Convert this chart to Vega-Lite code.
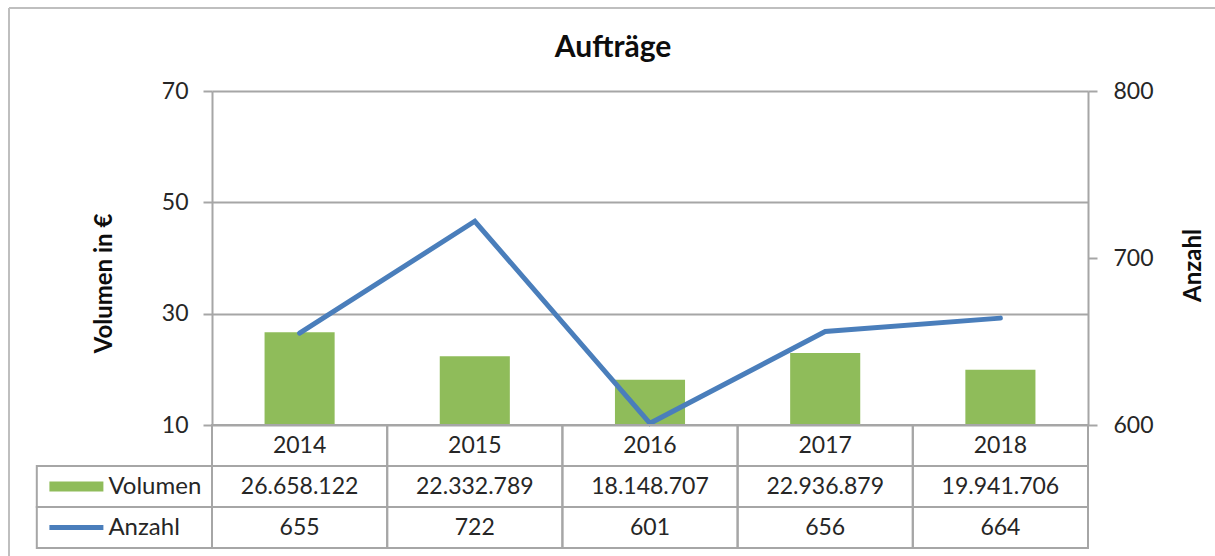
{
  "$schema": "https://vega.github.io/schema/vega-lite/v6.json",
  "width": 876,
  "height": 457,
  "autosize": {"type": "none"},
  "padding": {"left": 212, "top": 91, "right": 127, "bottom": 8},
  "background": "white",
  "title": {
    "text": "Aufträge",
    "frame": "group",
    "anchor": "middle",
    "baseline": "alphabetic",
    "offset": -80,
    "dx": -37,
    "fontSize": 30,
    "fontWeight": "bold",
    "font": "Lato",
    "color": "#0d0d0d"
  },
  "datasets": {
    "jahre": [
      {"Jahr": "2014", "Volumen": 26658122, "Anzahl": 655},
      {"Jahr": "2015", "Volumen": 22332789, "Anzahl": 722},
      {"Jahr": "2016", "Volumen": 18148707, "Anzahl": 601},
      {"Jahr": "2017", "Volumen": 22936879, "Anzahl": 656},
      {"Jahr": "2018", "Volumen": 19941706, "Anzahl": 664}
    ],
    "legende": [
      {"Zeile": "Volumen"},
      {"Zeile": "Anzahl"}
    ]
  },
  "layer": [
    {
      "data": {"name": "jahre"},
      "mark": {"type": "bar", "color": "#8fbc5a", "width": {"band": 0.4}},
      "encoding": {
        "x": {"field": "Jahr", "type": "nominal", "axis": null,
          "scale": {"type": "band", "domain": ["2014", "2015", "2016", "2017", "2018"], "range": [0, 876], "paddingInner": 0, "paddingOuter": 0}},
        "y": {"field": "Volumen", "type": "quantitative",
          "scale": {"domain": [10000000, 70000000], "range": [334, 0], "zero": false, "nice": false},
          "axis": {
            "orient": "left",
            "values": [10000000, 30000000, 50000000, 70000000],
            "labelExpr": "format(datum.value / 1000000, 'd')",
            "grid": true, "gridColor": "#a6a6a6", "gridWidth": 2,
            "domain": true, "domainColor": "#a6a6a6", "domainWidth": 2,
            "ticks": true, "tickColor": "#a6a6a6", "tickWidth": 2, "tickSize": 9,
            "labelPadding": 15, "labelFontSize": 23, "labelFont": "Lato", "labelColor": "#262626",
            "title": "Volumen in €", "titleFont": "Lato", "titleFontSize": 24, "titleFontWeight": "bold", "titleColor": "#0d0d0d",
            "titleAngle": -90, "titleAlign": "center", "titleBaseline": "middle",
            "titleX": -108, "titleY": 192
          }},
        "y2": {"datum": 10000000}
      }
    },
    {
      "data": {"name": "jahre"},
      "mark": {"type": "line", "color": "#4a7ebb", "strokeWidth": 5, "strokeCap": "round"},
      "encoding": {
        "x": {"field": "Jahr", "type": "nominal", "axis": null,
          "scale": {"type": "band", "domain": ["2014", "2015", "2016", "2017", "2018"], "range": [0, 876], "paddingInner": 0, "paddingOuter": 0}},
        "y": {"field": "Anzahl", "type": "quantitative",
          "scale": {"domain": [600, 800], "range": [334, 0], "zero": false, "nice": false},
          "axis": {
            "orient": "right",
            "values": [600, 700, 800],
            "grid": false,
            "domain": true, "domainColor": "#a6a6a6", "domainWidth": 2,
            "ticks": true, "tickColor": "#a6a6a6", "tickWidth": 2, "tickSize": 9,
            "labelPadding": 16, "labelFontSize": 23, "labelFont": "Lato", "labelColor": "#262626",
            "title": "Anzahl", "titleFont": "Lato", "titleFontSize": 24, "titleFontWeight": "bold", "titleColor": "#0d0d0d",
            "titleAngle": -90, "titleAlign": "center", "titleBaseline": "middle",
            "titleX": 105, "titleY": 174
          }}
      }
    },
    {
      "data": {"name": "jahre"},
      "transform": [{"fold": ["Jahr", "Volumen", "Anzahl"], "as": ["Zeile", "Wert"]}],
      "mark": {"type": "rect", "filled": false, "stroke": "#a6a6a6", "strokeWidth": 2},
      "encoding": {
        "x": {"field": "Jahr", "type": "nominal", "axis": null,
          "scale": {"type": "band", "domain": ["2014", "2015", "2016", "2017", "2018"], "range": [0, 876], "paddingInner": 0, "paddingOuter": 0}},
        "y": {"field": "Zeile", "type": "nominal", "axis": null,
          "scale": {"type": "band", "domain": ["Jahr", "Volumen", "Anzahl"], "range": [334, 457], "paddingInner": 0, "paddingOuter": 0}}
      }
    },
    {
      "data": {"name": "legende"},
      "mark": {"type": "rect", "filled": false, "stroke": "#a6a6a6", "strokeWidth": 2},
      "encoding": {
        "x": {"datum": "label", "type": "nominal", "axis": null,
          "scale": {"type": "band", "domain": ["label"], "range": [-175.2, 0], "paddingInner": 0, "paddingOuter": 0}},
        "y": {"field": "Zeile", "type": "nominal", "axis": null,
          "scale": {"type": "band", "domain": ["Jahr", "Volumen", "Anzahl"], "range": [334, 457], "paddingInner": 0, "paddingOuter": 0}}
      }
    },
    {
      "data": {"name": "jahre"},
      "mark": {"type": "text", "font": "Lato", "fontSize": 23, "color": "#262626", "baseline": "middle"},
      "encoding": {
        "x": {"field": "Jahr", "type": "nominal", "axis": null,
          "scale": {"type": "band", "domain": ["2014", "2015", "2016", "2017", "2018"], "range": [0, 876], "paddingInner": 0, "paddingOuter": 0}},
        "y": {"datum": "Jahr", "type": "nominal", "axis": null,
          "scale": {"type": "band", "domain": ["Jahr", "Volumen", "Anzahl"], "range": [334, 457], "paddingInner": 0, "paddingOuter": 0}},
        "text": {"field": "Jahr", "type": "nominal"}
      }
    },
    {
      "data": {"name": "jahre"},
      "transform": [{"fold": ["Volumen", "Anzahl"], "as": ["Zeile", "Wert"]}],
      "mark": {"type": "text", "font": "Lato", "fontSize": 23, "color": "#262626", "baseline": "middle"},
      "encoding": {
        "x": {"field": "Jahr", "type": "nominal", "axis": null,
          "scale": {"type": "band", "domain": ["2014", "2015", "2016", "2017", "2018"], "range": [0, 876], "paddingInner": 0, "paddingOuter": 0}},
        "y": {"field": "Zeile", "type": "nominal", "axis": null,
          "scale": {"type": "band", "domain": ["Jahr", "Volumen", "Anzahl"], "range": [334, 457], "paddingInner": 0, "paddingOuter": 0}},
        "text": {"field": "Wert", "type": "quantitative", "format": ",d"}
      }
    },
    {
      "data": {"name": "legende"},
      "mark": {"type": "text", "font": "Lato", "fontSize": 24, "color": "#262626", "baseline": "middle", "align": "left", "dx": -16},
      "encoding": {
        "x": {"datum": "label", "type": "nominal", "axis": null,
          "scale": {"type": "band", "domain": ["label"], "range": [-175.2, 0], "paddingInner": 0, "paddingOuter": 0}},
        "y": {"field": "Zeile", "type": "nominal", "axis": null,
          "scale": {"type": "band", "domain": ["Jahr", "Volumen", "Anzahl"], "range": [334, 457], "paddingInner": 0, "paddingOuter": 0}},
        "text": {"field": "Zeile", "type": "nominal"}
      }
    },
    {
      "data": {"name": "legende"},
      "mark": {"type": "point", "filled": true, "opacity": 1, "size": 2916, "xOffset": -48},
      "encoding": {
        "x": {"datum": "label", "type": "nominal", "axis": null,
          "scale": {"type": "band", "domain": ["label"], "range": [-175.2, 0], "paddingInner": 0, "paddingOuter": 0}},
        "y": {"field": "Zeile", "type": "nominal", "axis": null,
          "scale": {"type": "band", "domain": ["Jahr", "Volumen", "Anzahl"], "range": [334, 457], "paddingInner": 0, "paddingOuter": 0}},
        "color": {"field": "Zeile", "type": "nominal", "legend": null,
          "scale": {"domain": ["Volumen", "Anzahl"], "range": ["#8fbc5a", "#4a7ebb"]}},
        "shape": {"field": "Zeile", "type": "nominal", "legend": null,
          "scale": {"domain": ["Volumen", "Anzahl"], "range": ["M-1,-0.185H1V0.185H-1Z", "M-1,-0.09H1V0.09H-1Z"]}}
      }
    },
    {
      "data": {"values": [{}]},
      "mark": {"type": "rule", "color": "#bfbfbf", "strokeWidth": 2},
      "encoding": {
        "x": {"datum": 0, "type": "quantitative", "axis": null,
          "scale": {"domain": [0, 1], "range": [-203, 1003], "zero": false, "nice": false}},
        "x2": {"datum": 1},
        "y": {"datum": 0, "type": "quantitative", "axis": null,
          "scale": {"domain": [0, 1], "range": [-83, 465], "zero": false, "nice": false}}
      }
    },
    {
      "data": {"values": [{}]},
      "mark": {"type": "rule", "color": "#bfbfbf", "strokeWidth": 2},
      "encoding": {
        "x": {"datum": 0, "type": "quantitative", "axis": null,
          "scale": {"domain": [0, 1], "range": [-203, 1003], "zero": false, "nice": false}},
        "y": {"datum": 0, "type": "quantitative", "axis": null,
          "scale": {"domain": [0, 1], "range": [-83, 465], "zero": false, "nice": false}},
        "y2": {"datum": 1}
      }
    }
  ],
  "resolve": {"scale": {"x": "independent", "y": "independent"}},
  "config": {
    "view": {"stroke": null},
    "font": "Lato",
    "locale": {"number": {"decimal": ",", "thousands": ".", "grouping": [3], "currency": ["", " €"]}}
  }
}
